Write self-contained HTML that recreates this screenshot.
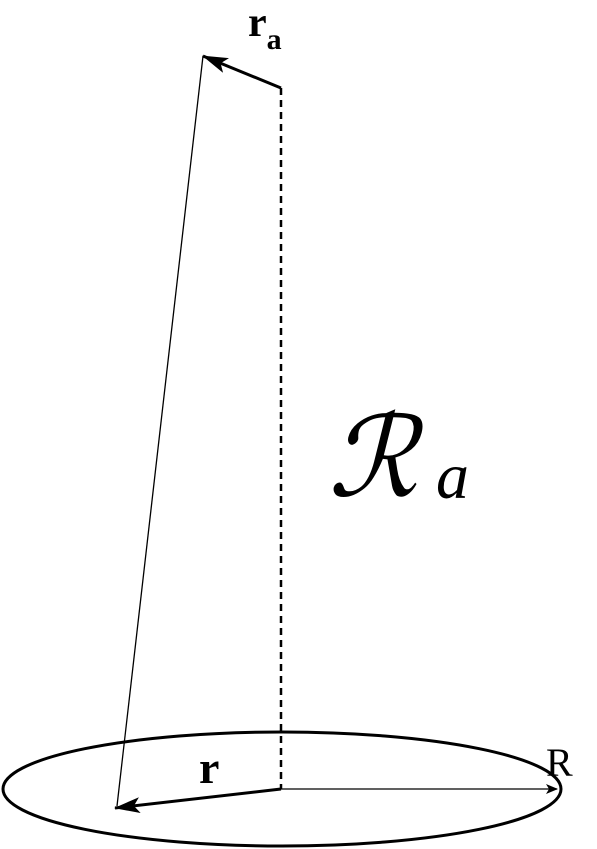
<!DOCTYPE html>
<html><head><meta charset="utf-8"><style>body{margin:0;background:#fff}svg{display:block}</style></head>
<body>
<svg width="597" height="849" viewBox="0 0 597 849">
<defs>
<marker id="ah" markerWidth="12" markerHeight="10" refX="11" refY="5" orient="auto" markerUnits="userSpaceOnUse"><path d="M0,0 L12,5 L0,10 L3,5 Z" fill="#000"/></marker>
<marker id="ah2" markerWidth="26" markerHeight="16" refX="25" refY="8" orient="auto" markerUnits="userSpaceOnUse"><path d="M0,0 L26,8 L0,16 L6,8 Z" fill="#000"/></marker>
</defs>
<ellipse cx="282" cy="789" rx="279" ry="57" fill="none" stroke="#000" stroke-width="3"/>
<line x1="281" y1="88" x2="281" y2="789" stroke="#000" stroke-width="2.5" stroke-dasharray="7,5"/>
<line x1="203" y1="56" x2="117" y2="806" stroke="#000" stroke-width="1.3"/>
<line x1="281" y1="88" x2="203" y2="56" stroke="#000" stroke-width="3" marker-end="url(#ah2)"/>
<line x1="281" y1="789" x2="115" y2="808" stroke="#000" stroke-width="3" marker-end="url(#ah2)"/>
<line x1="281" y1="789" x2="557" y2="789" stroke="#000" stroke-width="1.3" marker-end="url(#ah)"/>
<text x="248" y="36" font-family="Liberation Serif, serif" font-weight="bold" font-size="42">r<tspan font-size="30" dy="13">a</tspan></text>
<text x="199" y="783" font-family="Liberation Serif, serif" font-weight="bold" font-size="46">r</text>
<text x="546" y="776" font-family="Liberation Serif, serif" font-size="40">R</text>
<text x="328" y="496" font-family="Liberation Serif, serif" font-style="italic" font-size="112">ℛ</text>
<text x="436" y="498" font-family="Liberation Serif, serif" font-style="italic" font-size="66">a</text>
</svg>
</body></html>
